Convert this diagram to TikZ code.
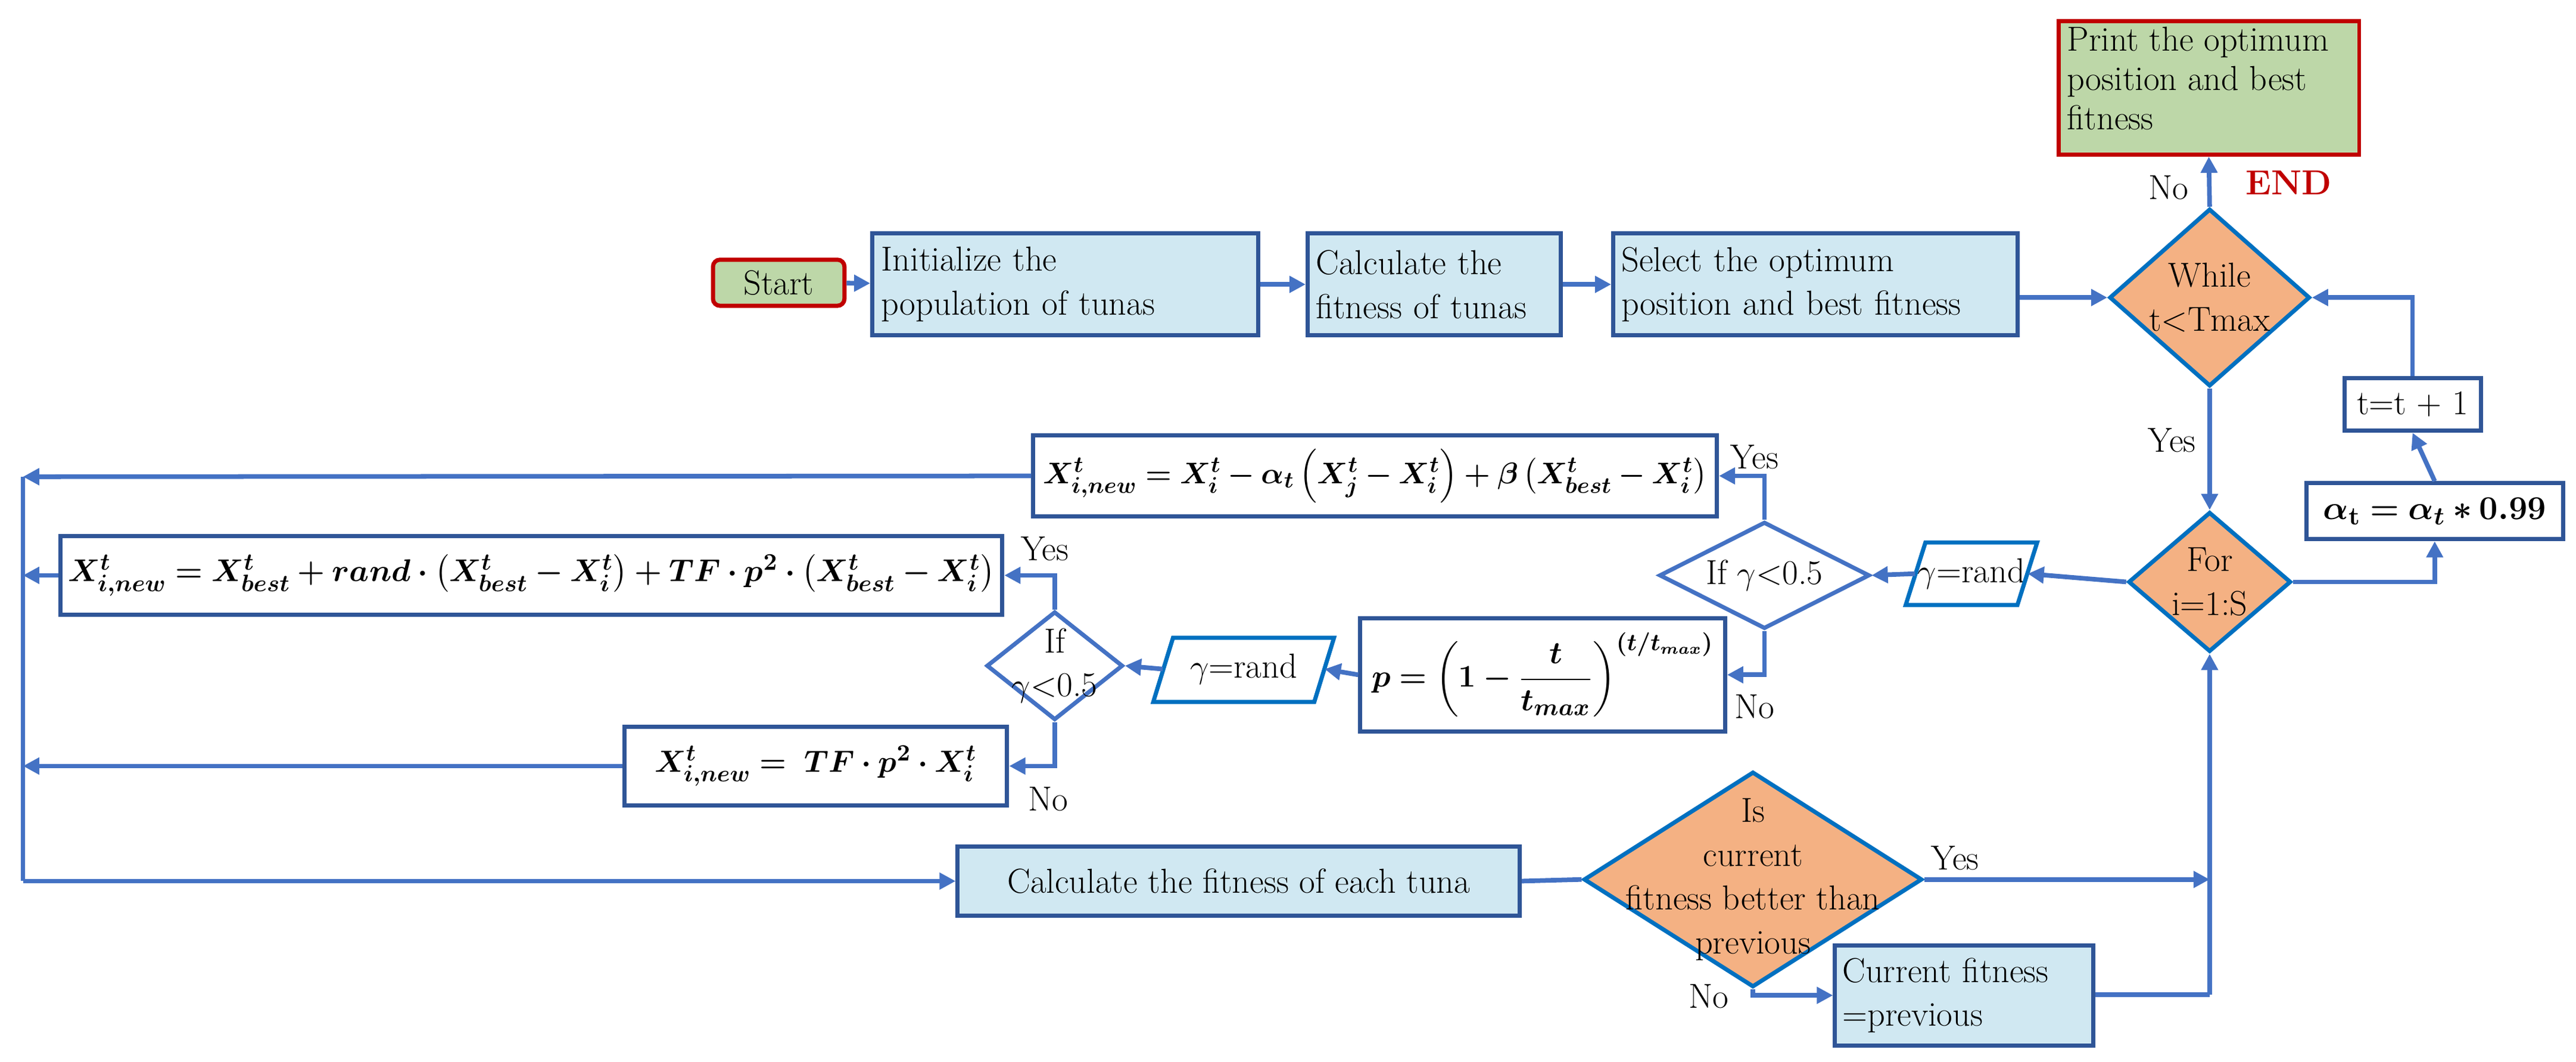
\documentclass[tikz,border=0pt]{standalone}
\usepackage{amsmath,bm}
\usetikzlibrary{shapes.geometric,arrows.meta,calc}
\definecolor{ln}{HTML}{4472C4}
\definecolor{bd}{HTML}{2F5597}
\definecolor{db}{HTML}{0070C0}
\definecolor{lb}{HTML}{D0E8F2}
\definecolor{og}{HTML}{F4B183}
\definecolor{gr}{HTML}{BDD7A8}
\definecolor{rd}{HTML}{C00000}
\begin{document}
\begin{tikzpicture}[x=0.025cm,y=-0.025cm,
  font=\fontsize{15}{19}\selectfont,
  box/.style={draw=bd,line width=1.8pt,inner sep=2pt},
  pbox/.style={box,fill=lb},
  dia/.style={diamond,draw=db,line width=1.8pt,fill=og,inner sep=0pt},
  wdia/.style={diamond,draw=ln,line width=1.8pt,fill=white,inner sep=0pt},
  par/.style={draw=db,line width=1.8pt},
  con/.style={draw=ln,line width=2pt,-{Triangle[length=7pt,width=7pt]}},
  lnk/.style={draw=ln,line width=2pt},
  lab/.style={inner sep=0pt}]
\useasboundingbox (0,0) rectangle (1568,646);
% top row
\node[box,draw=rd,fill=gr,rounded corners=3pt,minimum width=2.0cm,minimum height=0.7cm] (start) at (474,172) {Start};
\node[pbox,minimum width=5.875cm,minimum height=1.55cm,text width=5.6cm,align=left] (init) at (648.5,173) {Initialize the\\population of tunas};
\node[pbox,minimum width=3.85cm,minimum height=1.55cm,text width=3.6cm,align=left] (calc) at (873,173) {Calculate the\\fitness of tunas};
\node[pbox,minimum width=6.15cm,minimum height=1.55cm,text width=5.9cm,align=left] (sel) at (1105,173) {Select the optimum\\position and best fitness};
\node[dia,minimum width=3.05cm,minimum height=2.7cm] (while) at (1345,181) {};
\node[lab,align=center] (whilet) at (1345,181) {While\\t<Tmax};
\node[box,draw=rd,fill=gr,minimum width=4.575cm,minimum height=2.025cm] (print) at (1344.5,53.5) {};
\node[lab,anchor=north west,align=left,font=\fontsize{15}{17}\selectfont] (printt) at (1258,16) {Print the optimum\\position and best\\fitness};
\node[lab,text=rd,font=\fontsize{15}{19}\selectfont\bfseries] (end) at (1393,111) {END};
\node[box,fill=white,minimum width=2.075cm,minimum height=0.8cm] (tt) at (1468.5,246) {t=t + 1};
\node[box,fill=white,minimum width=3.9cm,minimum height=0.85cm] (alpha) at (1482,311) {$\boldsymbol{\alpha_{\mathrm{t}}=\alpha_t*0.99}$};
\node[dia,minimum width=2.475cm,minimum height=2.125cm] (for) at (1345,354) {};
\node[lab,align=center] (fort) at (1345,354) {For\\i=1:S};
% gamma 1
\node[minimum width=1.7cm,minimum height=0.95cm,inner sep=0pt] (g1) at (1200,349) {$\gamma$=rand};
\draw[par] (1160,368) -- (1172,330) -- (1240,330) -- (1228,368) -- cycle;
\node[wdia,minimum width=3.2cm,minimum height=1.625cm] (if1) at (1074,350) {};
\node[lab] (if1t) at (1074,350) {If $\gamma$<0.5};
\node[box,fill=white,minimum width=10.4cm,minimum height=1.225cm] (f1) at (837,289.5)
 {\resizebox{10.1cm}{!}{$\boldsymbol{X^t_{i,new}=X^t_i-\alpha_t\left(X^t_j-X^t_i\right)+\beta\left(X^t_{best}-X^t_i\right)}$}};
\node[box,fill=white,minimum width=5.55cm,minimum height=1.725cm] (p) at (939,410.5)
 {\resizebox{5.2cm}{!}{$\boldsymbol{p=\left(1-\dfrac{t}{t_{max}}\right)^{(t/t_{max})}}$}};
% gamma 2
\node[minimum width=2.45cm,minimum height=0.975cm,inner sep=0pt] (g2) at (757,407) {$\gamma$=rand};
\draw[par] (702,427) -- (714,388) -- (812,388) -- (800,427) -- cycle;
\node[wdia,minimum width=2.075cm,minimum height=1.65cm] (if2) at (642,405) {};
\node[lab,align=center] (if2t) at (642,405) {If\\$\gamma$<0.5};
\node[box,fill=white,minimum width=14.325cm,minimum height=1.2cm] (f2) at (323.5,350)
 {\resizebox{14.1cm}{!}{$\boldsymbol{X^t_{i,new}=X^t_{best}+rand\cdot\left(X^t_{best}-X^t_i\right)+TF\cdot p^2\cdot\left(X^t_{best}-X^t_i\right)}$}};
\node[box,fill=white,minimum width=5.825cm,minimum height=1.2cm] (f3) at (496.5,466)
 {\resizebox{4.9cm}{!}{$\boldsymbol{X^t_{i,new}=\ TF\cdot p^2\cdot X^t_i}$}};
% bottom
\node[pbox,minimum width=8.55cm,minimum height=1.05cm] (each) at (754,536) {Calculate the fitness of each tuna};
\node[dia,minimum width=5.15cm,minimum height=3.275cm] (is) at (1067,535) {};
\node[lab,align=center] (ist) at (1067,535) {Is\\current\\fitness better than\\previous};
\node[pbox,minimum width=3.925cm,minimum height=1.525cm,text width=3.7cm,align=left] (cur) at (1195.5,605.5) {Current fitness\\=previous};
% coordinates
\coordinate (L1) at (14,290);
\coordinate (L2) at (14,350);
\coordinate (L3) at (14,466);
\coordinate (LB) at (14,536);
\coordinate (J1) at (1345,535);
\coordinate (J2) at (1345,605);
% connectors
\draw[con] (start) -- (init);
\draw[con] (init) -- (calc);
\draw[con] (calc) -- (sel);
\draw[con] (sel.east|-while.west) -- (while.west);
\draw[con] (while.north) -- (print.south);
\draw[con] (while.south) -- (for.north);
\draw[con] (for.east) -| (alpha.south);
\draw[con] (alpha.north) -- (tt.south);
\draw[con] (tt.north) |- (while.east);
\draw[con] (for.west) -- (g1.east);
\draw[con] (g1.west) -- (if1.east);
\draw[con] (if1.north) |- (f1.east);
\draw[con] (if1.south) |- (p.east);
\draw[con] (f1.west) -- (L1);
\draw[con] (p.west) -- (g2.east);
\draw[con] (g2.west) -- (if2.east);
\draw[con] (if2.north) |- (f2.east);
\draw[con] (if2.south) |- (f3.east);
\draw[con] (f2.west) -- (L2);
\draw[con] (f3.west) -- (L3);
\draw[lnk] (L1) -- (LB);
\draw[con] (LB) -- (each.west);
\draw[lnk] (each.east) -- (is.west);
\draw[con] (is.east) -- (J1);
\draw[con] (is.south) |- (cur.west);
\draw[lnk] (cur.east|-J2) -- (J2);
\draw[con] (J2) -- (for.south);
% labels
\node[lab] at (1320,114) {No};
\node[lab] at (1322,268) {Yes};
\node[lab] at (1068,278) {Yes};
\node[lab] at (1068,430) {No};
\node[lab] at (636,334) {Yes};
\node[lab] at (638,486) {No};
\node[lab] at (1190,522) {Yes};
\node[lab] at (1040,606) {No};
\end{tikzpicture}
\end{document}
